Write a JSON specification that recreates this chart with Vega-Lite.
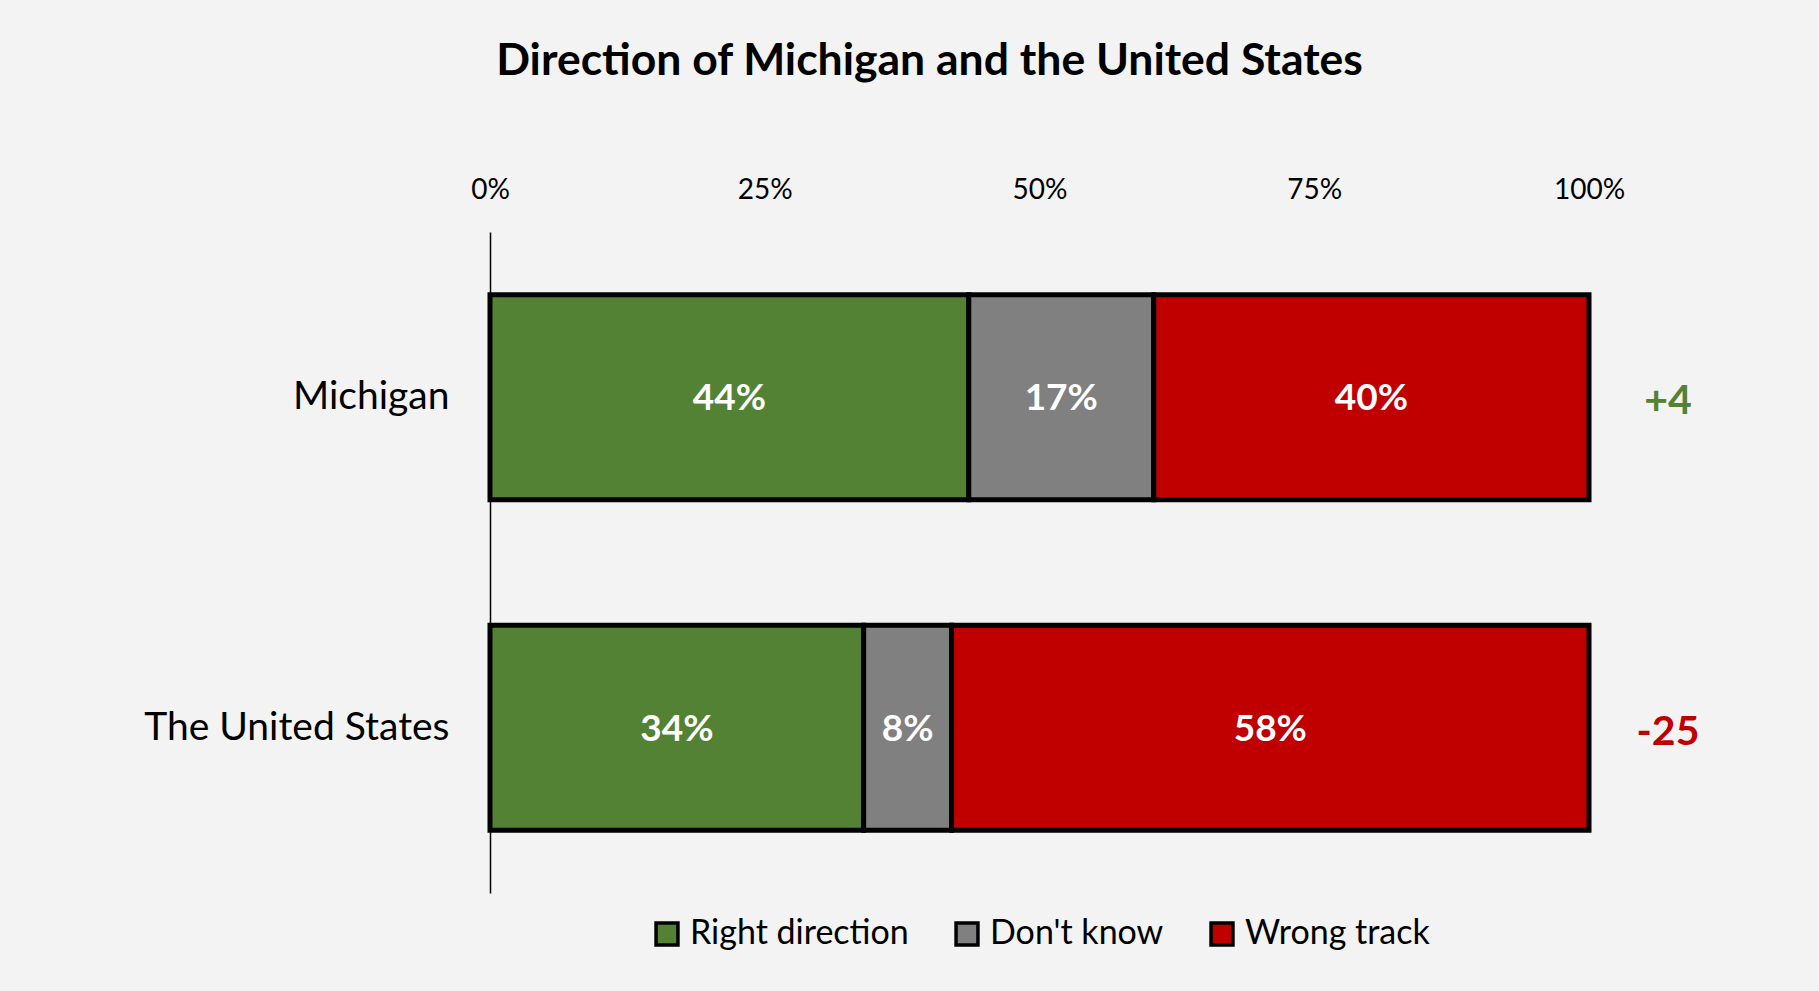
{
  "$schema": "https://vega.github.io/schema/vega-lite/v6.json",
  "width": 1099,
  "height": 661,
  "autosize": {"type": "none"},
  "padding": {"left": 490, "top": 232, "right": 230, "bottom": 98},
  "background": "#f2f3f2",
  "title": {
    "text": "Direction of Michigan and the United States",
    "font": "Lato",
    "fontSize": 44.5,
    "fontWeight": "bold",
    "color": "#000000",
    "anchor": "middle",
    "dx": -110,
    "offset": 92
  },
  "config": {
    "view": {"stroke": null},
    "font": "Lato",
    "legend": {"layout": {"bottom": {"anchor": "middle"}}}
  },
  "datasets": {
    "bars": [
      {"state": "Michigan", "response": "Right direction", "ord": 1, "value": 0.44},
      {"state": "Michigan", "response": "Don't know", "ord": 2, "value": 0.17},
      {"state": "Michigan", "response": "Wrong track", "ord": 3, "value": 0.40},
      {"state": "The United States", "response": "Right direction", "ord": 1, "value": 0.34},
      {"state": "The United States", "response": "Don't know", "ord": 2, "value": 0.08},
      {"state": "The United States", "response": "Wrong track", "ord": 3, "value": 0.58}
    ],
    "net": [
      {"state": "Michigan", "net": 4, "netLabel": "+4"},
      {"state": "The United States", "net": -25, "netLabel": "-25"}
    ]
  },
  "encoding": {
    "y": {
      "field": "state",
      "type": "nominal",
      "sort": ["Michigan", "The United States"],
      "scale": {"paddingInner": 0.38, "paddingOuter": 0.19},
      "axis": {
        "title": null,
        "ticks": false,
        "domain": true,
        "domainColor": "#000000",
        "domainWidth": 1.5,
        "labelFont": "Lato",
        "labelFontSize": 39,
        "labelColor": "#000000",
        "labelPadding": 41,
        "labelLimit": 500
      }
    }
  },
  "layer": [
    {
      "data": {"name": "bars"},
      "mark": {"type": "bar", "stroke": "#000000", "strokeWidth": 5},
      "encoding": {
        "x": {
          "field": "value",
          "type": "quantitative",
          "stack": "normalize",
          "axis": {
            "orient": "top",
            "title": null,
            "values": [0, 0.25, 0.5, 0.75, 1],
            "format": ".0%",
            "grid": false,
            "ticks": false,
            "domain": false,
            "labelFlush": false,
            "labelFont": "Lato",
            "labelFontSize": 28,
            "labelColor": "#000000",
            "labelPadding": 28
          }
        },
        "order": {"field": "ord", "type": "quantitative"},
        "color": {
          "field": "response",
          "type": "nominal",
          "sort": ["Right direction", "Don't know", "Wrong track"],
          "scale": {
            "domain": ["Right direction", "Don't know", "Wrong track"],
            "range": ["#548235", "#808080", "#c00000"]
          },
          "legend": {
            "title": null,
            "orient": "bottom",
            "direction": "horizontal",
            "symbolType": "square",
            "symbolSize": 480,
            "symbolStrokeColor": "#000000",
            "symbolStrokeWidth": 3.5,
            "symbolOpacity": 1,
            "labelFont": "Lato",
            "labelFontSize": 34,
            "labelColor": "#000000",
            "labelLimit": 500,
            "labelOffset": 6,
            "columnPadding": 40,
            "offset": 24
          }
        }
      }
    },
    {
      "data": {"name": "bars"},
      "mark": {"type": "text", "color": "#ffffff", "fontWeight": "bold", "fontSize": 37, "font": "Lato", "baseline": "middle", "align": "center", "dy": 2},
      "encoding": {
        "x": {"field": "value", "type": "quantitative", "stack": "normalize", "bandPosition": 0.5},
        "order": {"field": "ord", "type": "quantitative"},
        "detail": {"field": "response"},
        "text": {"field": "value", "type": "quantitative", "format": ".0%"}
      }
    },
    {
      "data": {"name": "net"},
      "mark": {"type": "text", "fontWeight": "bold", "fontSize": 41, "font": "Lato", "baseline": "middle", "align": "center", "dx": 79, "dy": 5},
      "encoding": {
        "x": {"datum": 1, "type": "quantitative"},
        "text": {"field": "netLabel"},
        "color": {
          "condition": {"test": "datum.net > 0", "value": "#548235"},
          "value": "#c00000"
        }
      }
    }
  ]
}
